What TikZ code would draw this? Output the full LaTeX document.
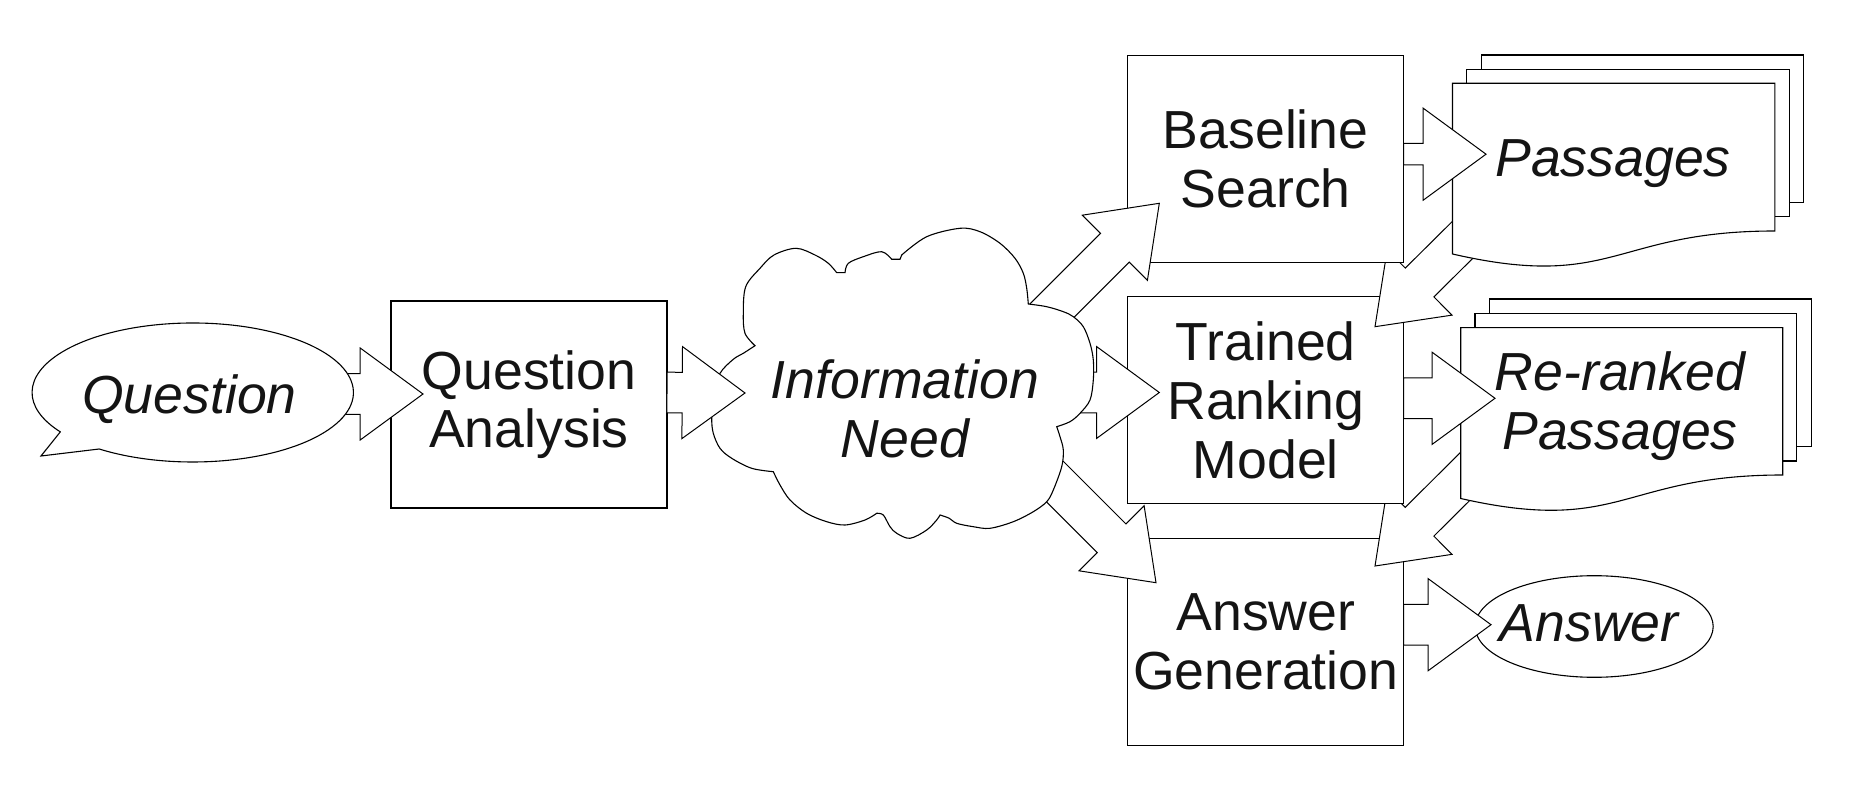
\documentclass[tikz,border=0pt]{standalone}
\usepackage{fontspec}
\setmainfont{Liberation Sans}
\usetikzlibrary{calc,shapes.geometric}
% block arrow: [shaft half width]{tail}{tip}
\newcommand\barrow[3][10.15pt]{%
  \coordinate (ah) at ($(#3)!31.4pt!(#2)$);
  \draw[blockarrow] ($(#2)!#1!90:(#3)$) -- ($(ah)!#1!90:(#3)$) -- ($(ah)!23pt!90:(#3)$) -- (#3)
    -- ($(ah)!23pt!-90:(#3)$) -- ($(ah)!#1!-90:(#3)$) -- ($(#2)!#1!-90:(#3)$) -- cycle;
}
\begin{document}
\begin{tikzpicture}[x=0.5pt,y=-0.5pt, line join=miter,
  every node/.style={font=\fontsize{26.8pt}{29.3pt}\selectfont, text=black!92},
  box/.style={draw, fill=white, line width=0.55pt, minimum width=138pt, minimum height=103.5pt, inner sep=0pt, align=center},
  shp/.style={draw, fill=white, line width=0.55pt},
  blockarrow/.style={draw, fill=white, line width=0.5pt},
  lbl/.style={inner sep=0pt, align=center},
  it/.style={font=\fontsize{26.8pt}{29.3pt}\selectfont\itshape}]
\useasboundingbox (0,0) rectangle (1852,790);

% Question Analysis box
\node[box] (qa) at (529,404.5) {Question\\Analysis};
% Question -> Question Analysis
\coordinate (qtail) at (340,394);
\coordinate (qtip) at (423,394);
\barrow{qtail}{qtip}
% Question callout
\draw[shp] (60.3,431.9) -- (41,456) -- (99.2,449)
  arc[start angle=125.6, end angle=-214.5, x radius=160.7, y radius=69.5] -- cycle;
\node[lbl, it, anchor=base] (q) at (189.4,413.3) {Question};

% Answer Generation box
\node[box] (ag) at (1265.8,641.7) {Answer\\Generation};
% Re-ranked -> Answer Generation
\coordinate (rratail) at (1519.7,422.2);
\coordinate (rratip) at (1375,566);
\barrow{rratail}{rratip}
% Trained Ranking Model box
\node[box] (trm) at (1265.8,400.3) {Trained\\Ranking\\Model};
% Passages -> Trained Ranking Model
\coordinate (ptail) at (1519.7,183.2);
\coordinate (ptip) at (1375,326.7);
\barrow{ptail}{ptip}
% Baseline Search box
\node[box] (bs) at (1265.7,159) {Baseline\\Search};

% Passages stack
\draw[shp] (1481.3,55) rectangle (1803.6,202.7);
\draw[shp] (1466.9,69.3) rectangle (1789.2,216.7);
\draw[shp] (1452.5,83.3) -- (1774.8,83.3) -- (1774.8,231)
  .. controls (1613.6,231) and (1613.6,291) .. (1452.5,254) -- cycle;
\node[lbl, it, anchor=base] (pas) at (1613,176.7) {Passages};
% Re-ranked Passages stack
\draw[shp] (1489.3,299) rectangle (1811.7,446.7);
\draw[shp] (1475,313.3) rectangle (1796.7,461);
\draw[shp] (1460.7,327.7) -- (1782.7,327.7) -- (1782.7,475)
  .. controls (1621.7,475) and (1621.7,535) .. (1460.7,498.5) -- cycle;
\node[lbl, it] (rrp) at (1620,405.9) {Re-ranked\\Passages};

% Baseline Search -> Passages
\coordinate (bpt) at (1403.6,154.2);
\coordinate (bpp) at (1486,154.2);
\barrow[5.4pt]{bpt}{bpp}
% Trained Ranking Model -> Re-ranked Passages
\coordinate (trt) at (1403.6,398.3);
\coordinate (trp) at (1495,398.3);
\barrow{trt}{trp}

% Answer ellipse
\node[ellipse, draw, fill=white, line width=0.55pt, minimum width=119pt, minimum height=50.8pt, inner sep=0pt] (ans) at (1594.2,626.5) {};
\coordinate (aat) at (1403.6,624.7);
\coordinate (aap) at (1491,624.7);
\barrow{aat}{aap}
\node[lbl, it, anchor=base] (anst) at (1589,641.7) {Answer};

% Information Need -> three boxes (tails hidden under cloud)
\coordinate (c1t) at (1030,332.6);
\coordinate (c1p) at (1159.3,203.3);
\barrow{c1t}{c1p}
\coordinate (c2t) at (1050,392.5);
\coordinate (c2p) at (1159.3,392.5);
\barrow{c2t}{c2p}
\coordinate (c3t) at (1000.4,427.1);
\coordinate (c3p) at (1156,582.7);
\barrow{c3t}{c3p}

% Cloud
\draw[shp] (755,345.7)
  -- plot[smooth, tension=0.55] coordinates {(755,345.7) (745,333.3) (743.3,313.3) (745.7,286.7) (760,268.3) (774,255) (796,248.3) (815,255) (828.3,263.3) (836.7,272.7)}
  -- (845,272.7)
  -- plot[smooth, tension=0.55] coordinates {(845,272.7) (848.3,263.3) (863.3,256.7) (881.7,251.7) (891.7,259.3)}
  -- (900,259.3) -- (901.7,255)
  -- plot[smooth, tension=0.55] coordinates {(901.7,255) (926.7,236.7) (960,228.3) (980,231.7) (1000,243.3) (1015,258.3) (1023.3,273.3) (1026.7,288.3) (1028.3,304)}
  -- plot[smooth, tension=0.55] coordinates {(1028.3,304) (1046.7,306.7) (1063.3,311.7) (1073.3,316.7) (1083.3,326.7) (1090,343.3) (1093.3,360) (1093.3,380) (1090,400) (1080,413.3) (1070,421.7) (1056.7,426.7)}
  -- plot[smooth, tension=0.55] coordinates {(1056.7,426.7) (1060,436.7) (1063.3,450) (1061.7,466.7) (1053.3,490) (1046.7,501.7) (1033.3,511.7) (1013.3,521.7) (990,528.3) (973.3,526.7) (956.7,523.3) (949.3,518.3) (940,515)}
  -- plot[smooth, tension=0.55] coordinates {(940,515) (936.7,520) (926.7,530) (910,538.3) (896.7,533.3) (890,526.7) (883.3,515) (876.7,513.3)}
  -- plot[smooth, tension=0.55] coordinates {(876.7,513.3) (865,520) (845,525) (826.7,521.7) (806.7,513.3) (790,500) (780,485) (773.3,471.7)}
  -- plot[smooth, tension=0.55] coordinates {(773.3,471.7) (751.7,468.3) (731.7,458.3) (720,448.3) (713.3,433.3) (711.7,418.3) (713,395) (720,373.3) (733.3,359.3) (743.3,353.3) (755,345.7)}
  -- cycle;
\node[lbl, it] (need) at (905,409) {Information\\Need};

% Question Analysis -> Information Need
\coordinate (qct) at (667,392.5);
\coordinate (qcp) at (745,393);
\barrow{qct}{qcp}
\end{tikzpicture}
\end{document}
